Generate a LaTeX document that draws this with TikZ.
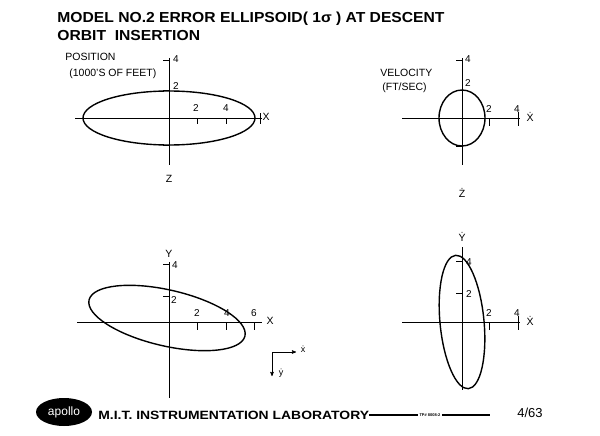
\documentclass[tikz,border=0pt]{standalone}
\usepackage{fontspec}
\setmainfont{Liberation Sans}
\usepackage{tikz}
\usetikzlibrary{arrows}
\usetikzlibrary{positioning}
\usetikzlibrary{shapes.geometric}

\begin{document}
\begin{tikzpicture}[x=1pt,y=-1pt,>=stealth',thick,
    axis line/.style={-,line width=0.6pt},
    ell line/.style={line width=1.4pt},
    lbl/.style={font=\fontsize{10.5}{10.5}\selectfont,inner sep=1pt},
    tick lbl/.style={font=\fontsize{10}{10}\selectfont,inner sep=1pt},
    title/.style={font=\fontsize{14.5}{14.5}\selectfont\bfseries,anchor=west,inner sep=0pt}]
   \useasboundingbox[fill=white] (0,0) rectangle (600,436);
   % title
   \node[title] (t1) at (57,19) {\scalebox{1.08}[1]{MODEL NO.2 ERROR ELLIPSOID( 1σ ) AT DESCENT}};
   \node[title] (t2) at (57,36) {\scalebox{1.08}[1]{ORBIT\ \ INSERTION}};
   \begin{scope}% position x-z
      \coordinate (o1) at (169,118);
      \coordinate (l1) at (75,118);
      \coordinate (r1) at (262,118);
      \coordinate (u1) at (169,58);
      \coordinate (d1) at (169,165);
      \path[axis line] (l1) edge (r1);
      \path[axis line] (u1) edge (d1);
      \draw[ell line] (o1) ellipse (86 and 27);
      \draw[axis line] (197,118) -- (197,124) (226,118) -- (226,124) (260,113) -- (260,124);
      \draw[axis line] (163,60) -- (169,60) (163,90) -- (169,90) (163,145) -- (169,145);
      \node[tick lbl] at (196,108) {2};
      \node[tick lbl] at (226,108) {4};
      \node[lbl] at (266,117) {X};
      \node[tick lbl] at (176,59) {4};
      \node[tick lbl] at (176,86) {2};
      \node[lbl] at (169,179) {Z};
      \node[lbl,anchor=west] at (64,57) {POSITION};
      \node[lbl,anchor=west] at (68,74) {(1000'S OF FEET)};
   \end{scope}
   \begin{scope}% velocity x-z
      \coordinate (o2) at (462,118);
      \coordinate (l2) at (402,118);
      \coordinate (r2) at (520,118);
      \coordinate (u2) at (462,58);
      \coordinate (d2) at (462,165);
      \path[axis line] (l2) edge (r2);
      \path[axis line] (u2) edge (d2);
      \draw[ell line] (o2) ellipse (23 and 28);
      \draw[axis line] (489,118) -- (489,126) (518,112) -- (518,126);
      \draw[axis line] (456,60) -- (462,60) (456,90) -- (462,90) (456,146) -- (462,146);
      \node[tick lbl] at (489,109) {2};
      \node[tick lbl] at (517,109) {4};
      \node[lbl] at (530,117) {\.{X}};
      \node[tick lbl] at (468,59) {4};
      \node[tick lbl] at (468,83) {2};
      \node[lbl] at (462,193) {\.{Z}};
      \node[lbl,anchor=west] at (379,73) {VELOCITY};
      \node[lbl,anchor=west] at (381,88) {(FT/SEC)};
   \end{scope}
   \begin{scope}% position x-y
      \coordinate (o3) at (169,322);
      \coordinate (l3) at (77,322);
      \coordinate (r3) at (262,322);
      \coordinate (u3) at (169,262);
      \coordinate (d3) at (169,398);
      \path[axis line] (l3) edge (r3);
      \path[axis line] (u3) edge (d3);
      \draw[ell line,rotate around={-13:(167,318)}] (167,318) ellipse (80 and 28);
      \draw[axis line] (197,322) -- (197,330) (226,322) -- (226,330) (254,322) -- (254,330);
      \draw[axis line] (163,264) -- (169,264) (163,296) -- (169,296);
      \node[tick lbl] at (197,313) {2};
      \node[tick lbl] at (227,313) {4};
      \node[tick lbl] at (254,313) {6};
      \node[lbl] at (270,321) {X};
      \node[lbl] at (169,254) {Y};
      \node[tick lbl] at (175,265) {4};
      \node[tick lbl] at (174,300) {2};
      \coordinate (c3) at (272,352);
      \coordinate (cx) at (296,352);
      \coordinate (cy) at (272,376);
      \draw[->,line width=0.6pt] (c3) -- (cx);
      \draw[->,line width=0.6pt] (c3) -- (cy);
      \node[lbl,font=\fontsize{9}{9}\selectfont] at (303,349) {\.{x}};
      \node[lbl,font=\fontsize{9}{9}\selectfont] at (281,373) {\.{y}};
   \end{scope}
   \begin{scope}% velocity x-y
      \coordinate (o4) at (462,322);
      \coordinate (l4) at (402,322);
      \coordinate (r4) at (520,322);
      \coordinate (u4) at (462,247);
      \coordinate (d4) at (462,390);
      \path[axis line] (l4) edge (r4);
      \path[axis line] (u4) edge (d4);
      \draw[ell line,rotate around={-84.5:(462,322)}] (o4) ellipse (67 and 22);
      \draw[axis line] (489,322) -- (489,330) (518,316) -- (518,330);
      \draw[axis line] (456,261) -- (462,261) (456,293) -- (462,293);
      \node[tick lbl] at (489,313) {2};
      \node[tick lbl] at (517,313) {4};
      \node[lbl] at (530,321) {\.{X}};
      \node[lbl] at (462,237) {\.{Y}};
      \node[tick lbl] at (469,262) {4};
      \node[tick lbl] at (469,294) {2};
   \end{scope}
   % footer
   \node[ellipse,fill=black,minimum width=56,minimum height=28,inner sep=0pt,
         text=white,font=\fontsize{12}{12}\selectfont] (apollo) at (64,412) {apollo};
   \node[font=\fontsize{12}{12}\selectfont\bfseries,anchor=west,inner sep=0pt] (mit) at (98,415) {\scalebox{1.16}[1]{M.I.T. INSTRUMENTATION LABORATORY}};
   \node[font=\fontsize{4}{4}\selectfont\bfseries,inner sep=1pt] (tp) at (430,415) {TP\# 8008-2};
   \draw[line width=1.6pt] (mit.east) -- (tp.west);
   \coordinate (tpend) at (490,415);
   \draw[line width=1.6pt] (tp.east) -- (tpend);
   \node[font=\fontsize{13}{13}\selectfont,inner sep=0pt] (date) at (530,413) {4/63};
\end{tikzpicture}
\end{document}
